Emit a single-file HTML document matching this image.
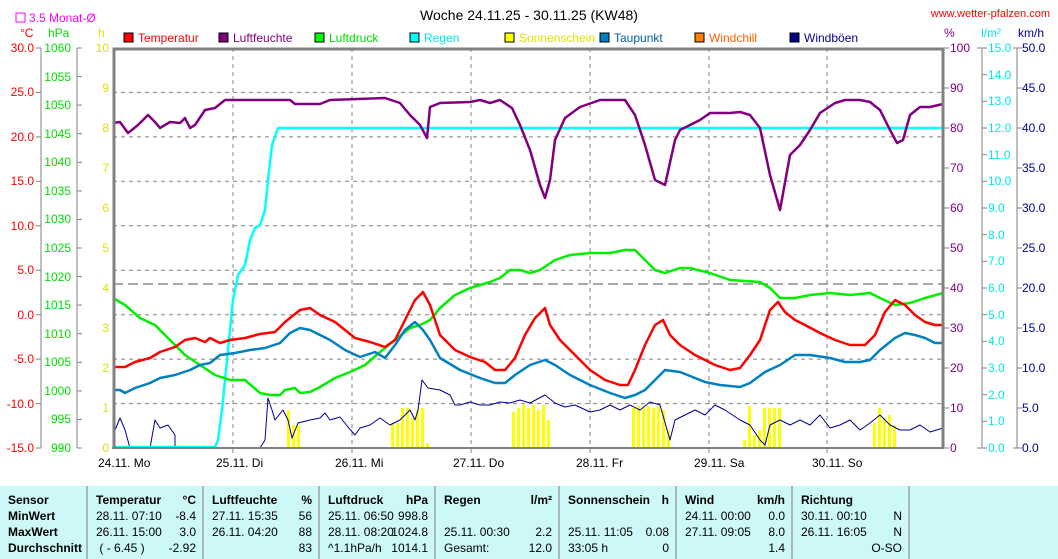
<!DOCTYPE html>
<html><head><meta charset="utf-8"><style>
body{margin:0;background:#fff;width:1058px;height:559px;overflow:hidden;font-family:"Liberation Sans",sans-serif}
svg text{font-family:"Liberation Sans",sans-serif;font-size:12px}
.tb{position:absolute;left:0;top:486px;width:1058px;height:73px;background:#ccf8f8;font-size:12px;font-family:"Liberation Sans",sans-serif}
.c{position:absolute;top:0;height:73px;border-right:2px solid #a8b8b8;box-sizing:border-box}
.r{position:absolute;left:8px;right:6px;height:16px;line-height:16px;white-space:nowrap}
.r span{position:absolute;right:0}
b{font-weight:bold}
</style></head><body>
<svg width="1058" height="486" style="position:absolute;left:0;top:0">
<text x="529" y="20" text-anchor="middle" font-size="14" style="font-size:14px">Woche 24.11.25 - 30.11.25 (KW48)</text>
<text x="1050" y="17" text-anchor="end" fill="#ff0000" style="font-size:11px">www.wetter-pfalzen.com</text>
<rect x="16" y="13" width="9" height="9" fill="none" stroke="#ff00ff"/>
<text x="29" y="22" fill="#ff00ff">3.5 Monat-Ø</text>
<text x="20" y="37" fill="#ff0000">°C</text>
<text x="48" y="37" fill="#00dd00">hPa</text>
<text x="98" y="37" fill="#e0e000">h</text>
<text x="944" y="37" fill="#800080">%</text>
<text x="981" y="37" fill="#00e8e8">l/m²</text>
<text x="1018" y="37" fill="#000090">km/h</text>
<!-- legend -->
<g stroke="#000" stroke-width="1">
<rect x="124" y="33" width="9" height="9" fill="#ff0000"/>
<rect x="219" y="33" width="9" height="9" fill="#800080"/>
<rect x="315" y="33" width="9" height="9" fill="#00ff00"/>
<rect x="410" y="33" width="9" height="9" fill="#00ffff"/>
<rect x="505" y="33" width="9" height="9" fill="#ffff00"/>
<rect x="600" y="33" width="9" height="9" fill="#0080c0"/>
<rect x="695" y="33" width="9" height="9" fill="#ff8000"/>
<rect x="790" y="33" width="9" height="9" fill="#000090"/>
</g>
<g style="font-size:11px">
<text x="138" y="42" fill="#ff0000">Temperatur</text>
<text x="233" y="42" fill="#800080">Luftfeuchte</text>
<text x="329" y="42" fill="#00dd00">Luftdruck</text>
<text x="424" y="42" fill="#00e8e8">Regen</text>
<text x="519" y="42" fill="#e0e000">Sonnenschein</text>
<text x="614" y="42" fill="#0060a0">Taupunkt</text>
<text x="709" y="42" fill="#ff6000">Windchill</text>
<text x="804" y="42" fill="#000090">Windböen</text>
</g>
<!-- grid -->
<g stroke="#808080" stroke-dasharray="4,4" stroke-width="1">
<line x1="113" x2="943" y1="92.4" y2="92.4"/><line x1="113" x2="943" y1="136.9" y2="136.9"/>
<line x1="113" x2="943" y1="181.3" y2="181.3"/><line x1="113" x2="943" y1="225.8" y2="225.8"/>
<line x1="113" x2="943" y1="270.2" y2="270.2"/><line x1="113" x2="943" y1="314.7" y2="314.7"/>
<line x1="113" x2="943" y1="359.1" y2="359.1"/><line x1="113" x2="943" y1="403.6" y2="403.6"/>
<line x1="233" x2="233" y1="48" y2="448"/><line x1="352" x2="352" y1="48" y2="448"/>
<line x1="471" x2="471" y1="48" y2="448"/><line x1="590" x2="590" y1="48" y2="448"/>
<line x1="709" x2="709" y1="48" y2="448"/><line x1="827" x2="827" y1="48" y2="448"/>
</g>
<line x1="113" x2="943" y1="284" y2="284" stroke="#505050" stroke-dasharray="10,5"/>
<!-- sun bars -->
<g fill="#ffff00">
<rect x="287" y="410" width="3" height="38"/><rect x="292" y="425" width="3" height="23"/><rect x="297" y="425" width="3" height="23"/>
<rect x="391" y="423" width="3" height="25"/><rect x="396" y="423" width="3" height="25"/><rect x="401" y="408" width="3" height="40"/><rect x="406" y="408" width="3" height="40"/><rect x="411" y="418" width="3" height="30"/><rect x="416" y="410" width="3" height="38"/><rect x="421" y="408" width="3" height="40"/><rect x="426" y="443" width="3" height="5"/>
<rect x="512" y="412" width="3" height="36"/><rect x="517" y="408" width="3" height="40"/><rect x="522" y="405" width="3" height="43"/><rect x="527" y="408" width="3" height="40"/><rect x="532" y="405" width="3" height="43"/><rect x="537" y="410" width="3" height="38"/><rect x="542" y="405" width="3" height="43"/><rect x="547" y="420" width="3" height="28"/>
<rect x="632" y="408" width="3" height="40"/><rect x="637" y="406" width="3" height="42"/><rect x="642" y="408" width="3" height="40"/><rect x="647" y="406" width="3" height="42"/><rect x="652" y="408" width="3" height="40"/><rect x="657" y="406" width="3" height="42"/><rect x="662" y="410" width="3" height="38"/><rect x="667" y="430" width="3" height="18"/>
<rect x="743" y="440" width="3" height="8"/><rect x="748" y="406" width="3" height="42"/><rect x="753" y="435" width="3" height="13"/><rect x="758" y="430" width="3" height="18"/><rect x="763" y="408" width="3" height="40"/><rect x="768" y="408" width="3" height="40"/><rect x="773" y="408" width="3" height="40"/><rect x="778" y="408" width="3" height="40"/>
<rect x="873" y="423" width="3" height="25"/><rect x="878" y="408" width="3" height="40"/><rect x="883" y="418" width="3" height="30"/><rect x="888" y="415" width="3" height="33"/><rect x="893" y="425" width="3" height="23"/>
</g>
<g fill="none" stroke-linejoin="round">
<polyline stroke="#000090" stroke-width="1" points="113,435 120,418 125,430 130,448 150,448 155,420 160,428 168,425 175,435 175,448 260,448 265,440 268,398 272,410 275,420 283,410 288,420 292,438 298,423 310,420 320,418 325,413 330,420 340,417 348,427 355,435 360,428 370,425 380,418 390,425 400,420 410,410 415,420 418,410 422,380 428,388 440,390 450,395 455,405 460,405 470,402 480,405 490,405 500,402 510,403 520,400 530,403 545,395 555,403 565,407 575,405 590,412 600,410 610,405 620,410 630,405 640,410 650,402 660,405 670,440 675,420 685,415 695,410 705,415 715,405 725,410 740,420 750,425 760,440 765,445 770,425 780,420 790,425 800,420 810,425 820,415 830,428 840,425 850,420 860,430 870,423 880,415 890,425 900,430 910,430 920,425 930,432 943,428"/>
<polyline stroke="#00ffff" stroke-width="2.5" points="113,447 215,447 218,440 222,410 228,350 233,300 238,275 245,265 250,240 255,228 260,225 265,210 268,180 272,145 278,128 943,128"/>
<polyline stroke="#00ee00" stroke-width="2.5" points="113,298 125,305 140,318 155,325 170,340 185,355 200,365 215,375 230,380 245,380 260,393 270,395 280,395 285,390 295,388 300,393 310,392 320,387 335,378 350,372 365,365 380,352 395,340 410,328 420,325 430,320 440,308 455,295 470,288 490,282 500,278 510,270 520,270 530,273 540,270 555,260 570,255 590,253 610,253 625,250 635,250 645,260 655,270 665,273 680,268 690,268 710,273 730,280 760,282 770,288 780,298 795,298 810,295 830,293 850,295 870,293 880,298 895,305 910,303 925,298 943,293"/>
<polyline stroke="#0080c0" stroke-width="2.5" points="113,390 120,390 125,393 135,388 150,383 160,378 175,375 190,370 200,365 210,363 220,355 235,353 250,350 265,348 280,343 290,333 300,328 310,330 320,335 330,340 345,350 360,357 375,352 385,358 395,345 405,330 415,322 423,330 430,340 440,358 460,370 480,378 495,383 505,383 515,375 530,365 545,360 555,365 570,375 590,385 610,393 625,398 635,395 645,390 655,380 665,370 680,372 695,378 705,382 720,385 740,387 750,383 765,372 780,365 795,355 810,355 830,358 845,362 860,362 870,360 880,350 895,338 905,333 915,335 925,338 935,343 943,343"/>
<polyline stroke="#ff0000" stroke-width="2.5" points="113,367 125,367 135,362 150,358 160,352 175,347 185,340 195,338 205,342 210,338 220,343 230,340 245,338 260,334 275,332 285,322 300,310 310,308 320,315 335,322 345,330 355,338 370,342 385,347 395,340 405,320 415,300 423,292 430,305 440,335 455,350 470,357 485,362 495,370 505,370 515,358 525,335 535,318 545,308 550,325 560,340 575,355 590,370 605,380 620,385 628,385 635,370 645,345 655,325 663,320 670,335 680,345 695,355 705,360 715,365 730,370 740,368 750,355 760,340 770,310 778,302 785,312 795,320 805,325 820,333 835,340 850,345 865,345 875,335 885,312 895,300 905,305 915,315 925,322 935,325 943,325"/>
<polyline stroke="#800080" stroke-width="2.5" points="113,123 120,122 128,133 138,125 148,115 155,122 160,128 170,122 180,123 185,118 190,128 195,125 205,110 215,108 225,100 240,100 290,100 295,104 320,104 330,100 385,98 400,103 410,115 420,125 427,138 430,107 440,103 470,102 480,100 490,103 500,100 512,108 520,125 530,150 540,185 545,198 550,180 555,140 565,118 580,107 600,100 625,100 635,115 645,145 655,180 665,185 675,140 680,130 690,125 700,120 710,113 730,113 740,112 750,115 760,128 770,175 780,210 790,155 800,145 810,130 820,113 835,103 845,100 860,100 870,102 880,110 890,130 897,143 903,140 910,115 920,107 930,107 943,104"/>
</g>
<!-- frame -->
<polyline points="114,448 114,49 943,49 943,448" fill="none" stroke="#808080" stroke-width="3"/>
<line x1="112" x2="944" y1="448" y2="448" stroke="#808080" stroke-width="2"/>
<!-- axis lines -->
<g stroke="#808080" stroke-width="1">
<line x1="41" x2="41" y1="48" y2="448"/><line x1="77" x2="77" y1="48" y2="448"/>
<line x1="982" x2="982" y1="48" y2="448"/><line x1="1017" x2="1017" y1="48" y2="448"/>
<line x1="36" x2="41" y1="48" y2="48"/><line x1="36" x2="41" y1="92.4" y2="92.4"/><line x1="36" x2="41" y1="136.9" y2="136.9"/><line x1="36" x2="41" y1="181.3" y2="181.3"/><line x1="36" x2="41" y1="225.8" y2="225.8"/><line x1="36" x2="41" y1="270.2" y2="270.2"/><line x1="36" x2="41" y1="314.7" y2="314.7"/><line x1="36" x2="41" y1="359.1" y2="359.1"/><line x1="36" x2="41" y1="403.6" y2="403.6"/><line x1="36" x2="41" y1="448" y2="448"/>
<line x1="77" x2="82" y1="48" y2="48"/><line x1="77" x2="82" y1="76.6" y2="76.6"/><line x1="77" x2="82" y1="105.1" y2="105.1"/><line x1="77" x2="82" y1="133.7" y2="133.7"/><line x1="77" x2="82" y1="162.3" y2="162.3"/><line x1="77" x2="82" y1="190.9" y2="190.9"/><line x1="77" x2="82" y1="219.4" y2="219.4"/><line x1="77" x2="82" y1="248" y2="248"/><line x1="77" x2="82" y1="276.6" y2="276.6"/><line x1="77" x2="82" y1="305.1" y2="305.1"/><line x1="77" x2="82" y1="333.7" y2="333.7"/><line x1="77" x2="82" y1="362.3" y2="362.3"/><line x1="77" x2="82" y1="390.9" y2="390.9"/><line x1="77" x2="82" y1="419.4" y2="419.4"/><line x1="77" x2="82" y1="448" y2="448"/>
<line x1="943" x2="949" y1="48" y2="48"/><line x1="943" x2="949" y1="88" y2="88"/><line x1="943" x2="949" y1="128" y2="128"/><line x1="943" x2="949" y1="168" y2="168"/><line x1="943" x2="949" y1="208" y2="208"/><line x1="943" x2="949" y1="248" y2="248"/><line x1="943" x2="949" y1="288" y2="288"/><line x1="943" x2="949" y1="328" y2="328"/><line x1="943" x2="949" y1="368" y2="368"/><line x1="943" x2="949" y1="408" y2="408"/><line x1="943" x2="949" y1="448" y2="448"/>
<line x1="977" x2="987" y1="48" y2="48"/><line x1="982" x2="987" y1="74.7" y2="74.7"/><line x1="982" x2="987" y1="101.3" y2="101.3"/><line x1="982" x2="987" y1="128" y2="128"/><line x1="982" x2="987" y1="154.7" y2="154.7"/><line x1="982" x2="987" y1="181.3" y2="181.3"/><line x1="982" x2="987" y1="208" y2="208"/><line x1="982" x2="987" y1="234.7" y2="234.7"/><line x1="982" x2="987" y1="261.3" y2="261.3"/><line x1="982" x2="987" y1="288" y2="288"/><line x1="982" x2="987" y1="314.7" y2="314.7"/><line x1="982" x2="987" y1="341.3" y2="341.3"/><line x1="982" x2="987" y1="368" y2="368"/><line x1="982" x2="987" y1="394.7" y2="394.7"/><line x1="982" x2="987" y1="421.3" y2="421.3"/><line x1="977" x2="987" y1="448" y2="448"/>
<line x1="1013" x2="1022" y1="48" y2="48"/><line x1="1017" x2="1022" y1="88" y2="88"/><line x1="1017" x2="1022" y1="128" y2="128"/><line x1="1017" x2="1022" y1="168" y2="168"/><line x1="1017" x2="1022" y1="208" y2="208"/><line x1="1017" x2="1022" y1="248" y2="248"/><line x1="1017" x2="1022" y1="288" y2="288"/><line x1="1017" x2="1022" y1="328" y2="328"/><line x1="1017" x2="1022" y1="368" y2="368"/><line x1="1017" x2="1022" y1="408" y2="408"/><line x1="1013" x2="1022" y1="448" y2="448"/>
<line x1="233" x2="233" y1="448" y2="453"/><line x1="352" x2="352" y1="448" y2="453"/><line x1="471" x2="471" y1="448" y2="453"/><line x1="590" x2="590" y1="448" y2="453"/><line x1="709" x2="709" y1="448" y2="453"/><line x1="827" x2="827" y1="448" y2="453"/>
</g>
<g fill="#ff0000" text-anchor="end">
<text x="34" y="52">30.0</text><text x="34" y="96">25.0</text><text x="34" y="141">20.0</text><text x="34" y="185">15.0</text><text x="34" y="230">10.0</text><text x="34" y="274">5.0</text><text x="34" y="319">0.0</text><text x="34" y="363">-5.0</text><text x="34" y="408">-10.0</text><text x="34" y="452">-15.0</text>
</g>
<g fill="#00dd00" text-anchor="end">
<text x="71" y="52">1060</text><text x="71" y="81">1055</text><text x="71" y="109">1050</text><text x="71" y="138">1045</text><text x="71" y="166">1040</text><text x="71" y="195">1035</text><text x="71" y="223">1030</text><text x="71" y="252">1025</text><text x="71" y="281">1020</text><text x="71" y="309">1015</text><text x="71" y="338">1010</text><text x="71" y="366">1005</text><text x="71" y="395">1000</text><text x="71" y="423">995</text><text x="71" y="452">990</text>
</g>
<g fill="#e0e000" text-anchor="end">
<text x="109" y="52">10</text><text x="109" y="92">9</text><text x="109" y="132">8</text><text x="109" y="172">7</text><text x="109" y="212">6</text><text x="109" y="252">5</text><text x="109" y="292">4</text><text x="109" y="332">3</text><text x="109" y="372">2</text><text x="109" y="412">1</text><text x="109" y="452">0</text>
</g>
<g fill="#800080">
<text x="950" y="52">100</text><text x="950" y="92">90</text><text x="950" y="132">80</text><text x="950" y="172">70</text><text x="950" y="212">60</text><text x="950" y="252">50</text><text x="950" y="292">40</text><text x="950" y="332">30</text><text x="950" y="372">20</text><text x="950" y="412">10</text><text x="950" y="452">0</text>
</g>
<g fill="#00e8e8">
<text x="988" y="52">15.0</text><text x="988" y="79">14.0</text><text x="988" y="105">13.0</text><text x="988" y="132">12.0</text><text x="988" y="159">11.0</text><text x="988" y="185">10.0</text><text x="988" y="212">9.0</text><text x="988" y="239">8.0</text><text x="988" y="265">7.0</text><text x="988" y="292">6.0</text><text x="988" y="319">5.0</text><text x="988" y="345">4.0</text><text x="988" y="372">3.0</text><text x="988" y="399">2.0</text><text x="988" y="425">1.0</text><text x="988" y="452">0.0</text>
</g>
<g fill="#000090">
<text x="1022" y="52">50.0</text><text x="1022" y="92">45.0</text><text x="1022" y="132">40.0</text><text x="1022" y="172">35.0</text><text x="1022" y="212">30.0</text><text x="1022" y="252">25.0</text><text x="1022" y="292">20.0</text><text x="1022" y="332">15.0</text><text x="1022" y="372">10.0</text><text x="1022" y="412">5.0</text><text x="1022" y="452">0.0</text>
</g>
<g fill="#000">
<text x="98" y="467">24.11. Mo</text><text x="216" y="467">25.11. Di</text><text x="335" y="467">26.11. Mi</text><text x="453" y="467">27.11. Do</text><text x="576" y="467">28.11. Fr</text><text x="694" y="467">29.11. Sa</text><text x="812" y="467">30.11. So</text>
</g>
</svg>
<div class="tb">
<div class="c" style="left:0;width:88px"><div class="r" style="top:6px"><b>Sensor</b></div><div class="r" style="top:22px"><b>MinWert</b></div><div class="r" style="top:38px"><b>MaxWert</b></div><div class="r" style="top:54px"><b>Durchschnitt</b></div></div>
<div class="c" style="left:88px;width:116px"><div class="r" style="top:6px"><b>Temperatur</b><span><b>°C</b></span></div><div class="r" style="top:22px">28.11. 07:10<span>-8.4</span></div><div class="r" style="top:38px">26.11. 15:00<span>3.0</span></div><div class="r" style="top:54px">&nbsp;( - 6.45 )<span>-2.92</span></div></div>
<div class="c" style="left:204px;width:116px"><div class="r" style="top:6px"><b>Luftfeuchte</b><span><b>%</b></span></div><div class="r" style="top:22px">27.11. 15:35<span>56</span></div><div class="r" style="top:38px">26.11. 04:20<span>88</span></div><div class="r" style="top:54px"><span>83</span></div></div>
<div class="c" style="left:320px;width:116px"><div class="r" style="top:6px"><b>Luftdruck</b><span><b>hPa</b></span></div><div class="r" style="top:22px">25.11. 06:50<span>998.8</span></div><div class="r" style="top:38px">28.11. 08:20<span>1024.8</span></div><div class="r" style="top:54px">^1.1hPa/h<span>1014.1</span></div></div>
<div class="c" style="left:436px;width:124px"><div class="r" style="top:6px"><b>Regen</b><span><b>l/m²</b></span></div><div class="r" style="top:38px">25.11. 00:30<span>2.2</span></div><div class="r" style="top:54px">Gesamt:<span>12.0</span></div></div>
<div class="c" style="left:560px;width:117px"><div class="r" style="top:6px"><b>Sonnenschein</b><span><b>h</b></span></div><div class="r" style="top:38px">25.11. 11:05<span>0.08</span></div><div class="r" style="top:54px">33:05 h<span>0</span></div></div>
<div class="c" style="left:677px;width:116px"><div class="r" style="top:6px"><b>Wind</b><span><b>km/h</b></span></div><div class="r" style="top:22px">24.11. 00:00<span>0.0</span></div><div class="r" style="top:38px">27.11. 09:05<span>8.0</span></div><div class="r" style="top:54px"><span>1.4</span></div></div>
<div class="c" style="left:793px;width:117px"><div class="r" style="top:6px"><b>Richtung</b></div><div class="r" style="top:22px">30.11. 00:10<span>N</span></div><div class="r" style="top:38px">26.11. 16:05<span>N</span></div><div class="r" style="top:54px"><span>O-SO</span></div></div>
</div>
</body></html>
